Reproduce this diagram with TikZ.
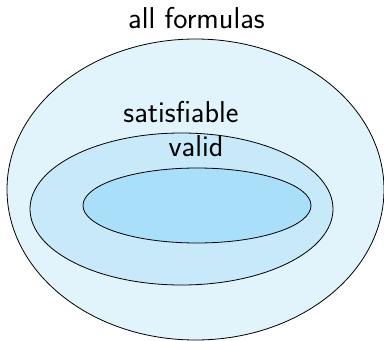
\documentclass[tikz,border=0pt]{standalone}
\usepackage{tikz}
\usetikzlibrary{shapes.geometric,positioning}
\definecolor{setouter}{RGB}{225,243,251}
\definecolor{setmid}{RGB}{200,233,249}
\definecolor{setinner}{RGB}{170,223,250}
\begin{document}
\begin{tikzpicture}[x=1bp, y=-1bp,
    set/.style={ellipse, draw=black, line width=0.8bp, inner sep=0pt},
    label/.style={font=\sffamily\fontsize{30.3}{36}\selectfont, anchor=base, inner sep=0pt}
]
    \useasboundingbox (0,0) rectangle (384,341);
    % Sets
    \node[set, fill=setouter, minimum width=377bp, minimum height=301bp] (all) at (195.5,189.5) {};
    \node[set, fill=setmid, minimum width=303bp, minimum height=152bp] (sat) at (181.5,209) {};
    \node[set, fill=setinner, minimum width=228bp, minimum height=75bp] (val) at (197,205.5) {};

    % Labels
    \node[label] (alllabel) at (196.5,28.5) {all formulas};
    \node[label] (satlabel) at (181,122.5) {satisfiable};
    \node[label] (vallabel) at (196,156.5) {valid};
\end{tikzpicture}
\end{document}
